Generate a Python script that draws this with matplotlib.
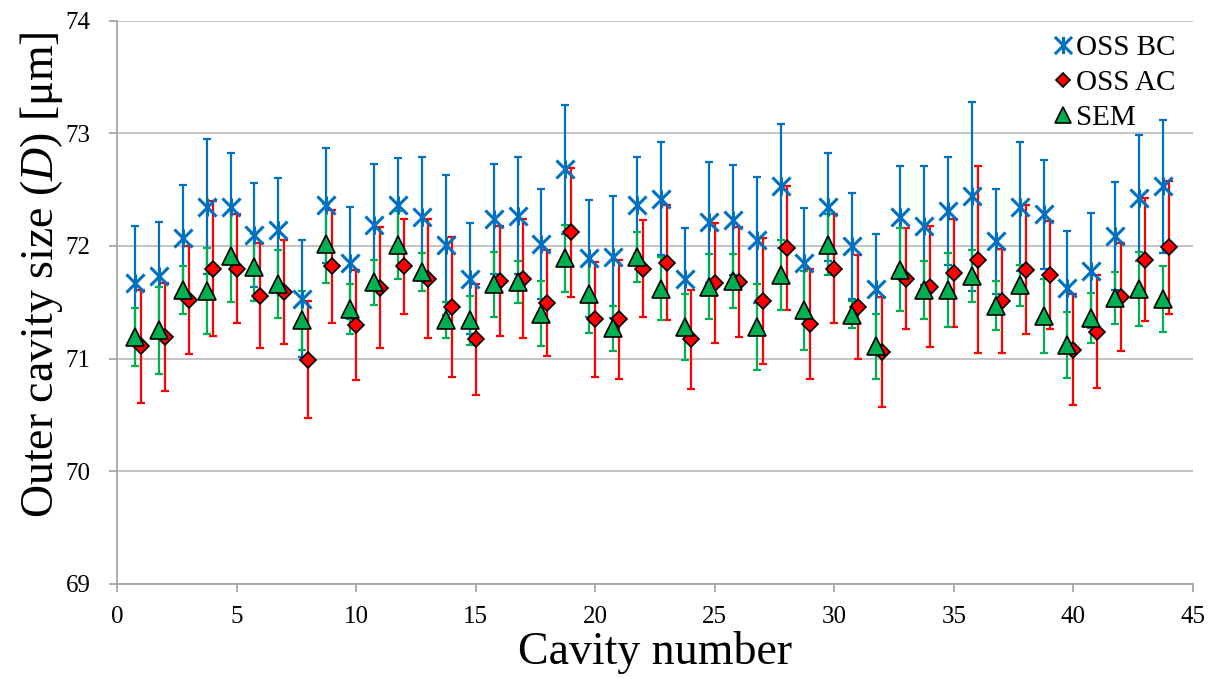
import numpy as np
import matplotlib
matplotlib.use('Agg')
import matplotlib.pyplot as plt
from matplotlib.path import Path

plt.rcParams['font.family'] = ['Liberation Serif', 'DejaVu Serif']
plt.rcParams['mathtext.fontset'] = 'custom'
plt.rcParams['mathtext.rm'] = 'Liberation Serif'
plt.rcParams['mathtext.it'] = 'Liberation Serif:italic'

# cavity numbers 1..44
cavity = np.arange(1, 45)

# OSS before calibration
bc = [71.67, 71.73, 72.07, 72.35, 72.35, 72.10, 72.14, 71.53, 72.36, 71.85, 72.19,
      72.36, 72.26, 72.01, 71.71, 72.24, 72.27, 72.02, 72.68, 71.89, 71.90, 72.36,
      72.42, 71.71, 72.21, 72.23, 72.05, 72.53, 71.85, 72.35, 72.00, 71.62, 72.26,
      72.18, 72.31, 72.44, 72.04, 72.35, 72.28, 71.63, 71.78, 72.09, 72.43, 72.53]
bc_err = [0.51, 0.48, 0.47, 0.60, 0.48, 0.46, 0.46, 0.52, 0.51, 0.50, 0.54,
          0.42, 0.53, 0.62, 0.49, 0.49, 0.52, 0.49, 0.57, 0.52, 0.54, 0.43,
          0.50, 0.45, 0.54, 0.49, 0.56, 0.55, 0.49, 0.48, 0.47, 0.49, 0.45,
          0.53, 0.48, 0.84, 0.47, 0.57, 0.48, 0.50, 0.51, 0.48, 0.56, 0.59]

# OSS after calibration
ac = [71.11, 71.19, 71.52, 71.80, 71.80, 71.56, 71.59, 70.99, 71.82, 71.30, 71.63,
      71.82, 71.71, 71.46, 71.17, 71.69, 71.71, 71.49, 72.12, 71.35, 71.35, 71.80,
      71.85, 71.17, 71.67, 71.68, 71.51, 71.98, 71.31, 71.80, 71.46, 71.06, 71.71,
      71.64, 71.76, 71.88, 71.51, 71.79, 71.74, 71.08, 71.24, 71.55, 71.88, 71.99]
ac_err = [0.50, 0.48, 0.48, 0.60, 0.48, 0.47, 0.46, 0.52, 0.50, 0.49, 0.54,
          0.42, 0.53, 0.62, 0.49, 0.49, 0.53, 0.47, 0.57, 0.51, 0.53, 0.43,
          0.51, 0.44, 0.53, 0.49, 0.56, 0.55, 0.49, 0.48, 0.46, 0.49, 0.45,
          0.54, 0.48, 0.83, 0.46, 0.57, 0.48, 0.49, 0.50, 0.48, 0.55, 0.59]

# SEM reference
sem = [71.19, 71.25, 71.61, 71.60, 71.91, 71.81, 71.66, 71.34, 72.02, 71.44, 71.68,
       72.01, 71.77, 71.34, 71.34, 71.66, 71.68, 71.40, 71.89, 71.57, 71.27, 71.90,
       71.62, 71.28, 71.64, 71.69, 71.28, 71.74, 71.43, 72.01, 71.39, 71.11, 71.79,
       71.61, 71.61, 71.73, 71.47, 71.65, 71.38, 71.12, 71.36, 71.54, 71.62, 71.53]
sem_err = [0.26, 0.39, 0.21, 0.38, 0.41, 0.30, 0.30, 0.26, 0.35, 0.22, 0.20,
           0.30, 0.17, 0.16, 0.22, 0.29, 0.19, 0.29, 0.30, 0.34, 0.20, 0.22,
           0.28, 0.29, 0.29, 0.24, 0.38, 0.31, 0.35, 0.27, 0.12, 0.29, 0.37,
           0.26, 0.33, 0.23, 0.22, 0.18, 0.33, 0.29, 0.22, 0.23, 0.33, 0.29]

blue = '#0070C0'
red = '#FF0000'
green = '#00B050'

# excel style star marker: x plus vertical bar
star = Path([(-1, -1), (1, 1), (-1, 1), (1, -1), (0, -1), (0, 1)],
            [Path.MOVETO, Path.LINETO, Path.MOVETO, Path.LINETO, Path.MOVETO, Path.LINETO])

fig = plt.figure(figsize=(12.16, 6.79), dpi=100)
ax = fig.add_axes([0.0962, 0.1402, 0.8849, 0.8292])

x_shift = cavity - 0.25

ax.errorbar(x_shift, bc, yerr=bc_err, fmt='none', ecolor=blue, elinewidth=1.6,
            capsize=3, capthick=1.6, zorder=3)
ax.errorbar(cavity, ac, yerr=ac_err, fmt='none', ecolor=red, elinewidth=1.6,
            capsize=3, capthick=1.6, zorder=3)
ax.errorbar(x_shift, sem, yerr=sem_err, fmt='none', ecolor=green, elinewidth=1.6,
            capsize=3, capthick=1.6, zorder=3)

ax.plot(x_shift, bc, linestyle='none', marker=star, markersize=13, markeredgewidth=2.2,
        color=blue, label='OSS BC', zorder=4)
ax.plot(cavity, ac, linestyle='none', marker='D', markersize=8, markerfacecolor=red,
        markeredgecolor='black', markeredgewidth=1.2, label='OSS AC', zorder=5)
ax.plot(x_shift, sem, linestyle='none', marker='^', markersize=12.5, markerfacecolor=green,
        markeredgecolor='black', markeredgewidth=1.2, label='SEM', zorder=6)

ax.set_xlim(0, 45)
ax.set_ylim(69, 74)
ax.set_xticks(np.arange(0, 46, 5))
ax.set_yticks(np.arange(69, 75, 1))
ax.grid(axis='y', color='#BFBFBF', linewidth=1.3, zorder=0)
ax.set_axisbelow(True)

for s in ['top', 'right']:
    ax.spines[s].set_visible(False)
for s in ['left', 'bottom']:
    ax.spines[s].set_color('#A6A6A6')
    ax.spines[s].set_linewidth(1.3)
ax.tick_params(axis='both', colors='#A6A6A6', length=6, width=1.3, labelsize=18,
               labelcolor='black')
ax.tick_params(axis='x', pad=10)
ax.tick_params(axis='y', pad=13)
for lab in ax.get_xticklabels() + ax.get_yticklabels():
    lab.set_fontfamily('Liberation Serif')

ax.set_xlabel('Cavity number', fontsize=33)
ax.set_ylabel('Outer cavity size ($D$) [μm]', fontsize=33)
ax.xaxis.set_label_coords(0.5, -0.084)
ax.yaxis.set_label_coords(-0.048, 0.55)

ax.legend(loc='upper right', bbox_to_anchor=(1.003, 1.012), frameon=False, fontsize=21,
          handletextpad=0.0, labelspacing=0.3, handlelength=0.9, borderpad=0.2,
          markerscale=0.95)

fig.savefig('out.png', dpi=100)
